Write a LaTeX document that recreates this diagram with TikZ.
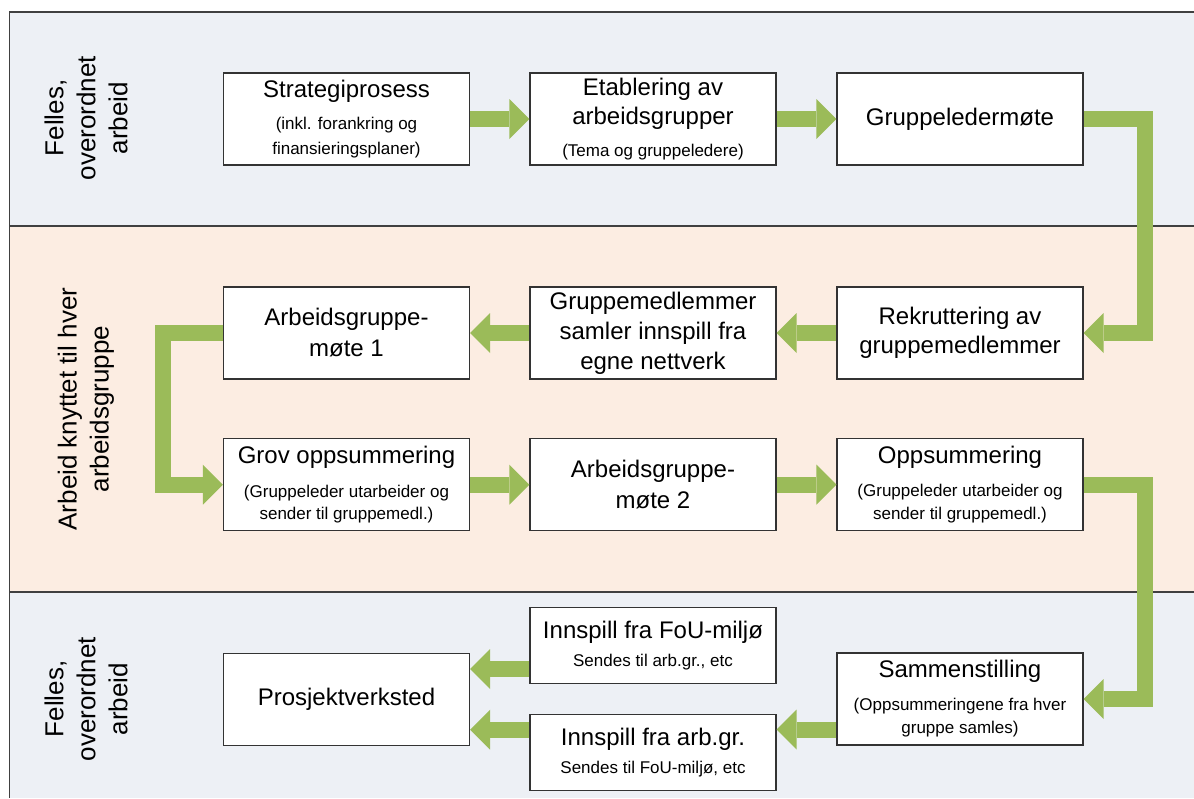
\documentclass[tikz,border=0pt]{standalone}
\usepackage{fontspec}
\setmainfont{Liberation Sans}
\usetikzlibrary{arrows.meta}
\definecolor{bandblue}{HTML}{EDF0F5}
\definecolor{bandpeach}{HTML}{FCEDE2}
\definecolor{flowgreen}{HTML}{9BBB59}
\definecolor{boxedge}{HTML}{333333}
\definecolor{bandedge}{HTML}{404040}
\newcommand{\boxtitle}[1]{{\fontsize{24}{28}\selectfont #1}}
\begin{document}
\setlength{\lineskiplimit}{-40pt}
\begin{tikzpicture}[x=1pt,y=-1pt,
  stepbox/.style={draw=boxedge, line width=1.1pt, fill=white,
    minimum width=246pt, minimum height=92pt, inner sep=0pt, align=center,
    font=\fontsize{17}{23}\selectfont},
  smallbox/.style={stepbox, minimum height=76pt},
  bandlabel/.style={rotate=90, align=center, inner sep=0pt,
    font=\fontsize{26}{32}\selectfont},
  bandline/.style={draw=bandedge, line width=1.4pt},
  flowline/.style={draw=flowgreen, line width=16pt,
    -{Triangle[width=40pt,length=20pt,line width=0pt]}}
]
\useasboundingbox (0,0) rectangle (1194,798);
% bands
\fill[bandblue] (9.5,12) rectangle (1194,226);
\fill[bandpeach] (9.5,226) rectangle (1194,592);
\fill[bandblue] (9.5,592) rectangle (1194,798);
\draw[bandline] (1194,12) -- (9.5,12) -- (9.5,798);
\draw[bandline] (9.5,226) -- (1194,226);
\draw[bandline] (9.5,592) -- (1194,592);
% band labels
\node[bandlabel] (lab1) at (86,118) {Felles,\\overordnet\\arbeid};
\node[bandlabel] (lab2) at (86,409) {Arbeid knyttet til hver\\arbeidsgruppe};
\node[bandlabel] (lab3) at (86,699) {Felles,\\overordnet\\arbeid};
% boxes
\node[stepbox] (s1) at (346.5,119) {\boxtitle{Strategiprosess}\\[9pt](inkl. forankring og\\[2pt]finansieringsplaner)};
\node[stepbox] (s2) at (653,119) {\boxtitle{Etablering av}\\[6pt]\boxtitle{arbeidsgrupper}\\[9pt](Tema og gruppeledere)};
\node[stepbox] (s3) at (960,119) {\boxtitle{Gruppeledermøte}};
\node[stepbox] (r1) at (960,333) {\boxtitle{Rekruttering av}\\[6pt]\boxtitle{gruppemedlemmer}};
\node[stepbox] (r2) at (653,333) {\boxtitle{Gruppemedlemmer}\\[7pt]\boxtitle{samler innspill fra}\\[7pt]\boxtitle{egne nettverk}};
\node[stepbox] (r3) at (346.5,333) {\boxtitle{Arbeidsgruppe-}\\[8pt]\boxtitle{møte 1}};
\node[stepbox] (g1) at (346.5,484.7) {\boxtitle{Grov oppsummering}\\[11pt](Gruppeleder utarbeider og\\[-1pt]sender til gruppemedl.)};
\node[stepbox] (g2) at (653,484.7) {\boxtitle{Arbeidsgruppe-}\\[8pt]\boxtitle{møte 2}};
\node[stepbox] (g3) at (960,484.7) {\boxtitle{Oppsummering}\\[10pt](Gruppeleder utarbeider og\\sender til gruppemedl.)};
\node[stepbox] (p) at (346.5,699.3) {\boxtitle{Prosjektverksted}};
\node[smallbox] (b1) at (653,645.3) {\boxtitle{Innspill fra FoU-miljø}\\[5pt]Sendes til arb.gr., etc};
\node[smallbox] (b2) at (653,752.5) {\boxtitle{Innspill fra arb.gr.}\\[5pt]Sendes til FoU-miljø, etc};
\node[stepbox] (b3) at (960,699) {\boxtitle{Sammenstilling}\\[10pt](Oppsummeringene fra hver\\gruppe samles)};
% connectors
\draw[flowline] (s1) -- (s2);
\draw[flowline] (s2) -- (s3);
\draw[flowline] (s3.east) -- ++(61,0) |- (r1.east);
\draw[flowline] (r1) -- (r2);
\draw[flowline] (r2) -- (r3);
\draw[flowline] (r3.west) -- ++(-60,0) |- (g1.west);
\draw[flowline] (g1) -- (g2);
\draw[flowline] (g2) -- (g3);
\draw[flowline] (g3.east) -- ++(61,0) |- (b3.east);
\draw[flowline] ([yshift=-30.5pt]b3.west) -- ([yshift=-30.5pt]b3.west -| b2.east);
\draw[flowline] ([yshift=-23.7pt]b1.west) -- ([yshift=-23.7pt]b1.west -| p.east);
\draw[flowline] ([yshift=22.8pt]b2.west) -- ([yshift=22.8pt]b2.west -| p.east);
\end{tikzpicture}
\end{document}
